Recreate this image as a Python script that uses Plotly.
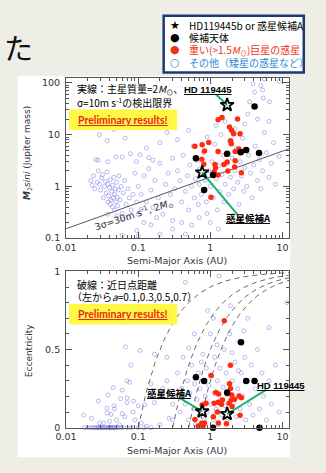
import numpy as np
import plotly.graph_objects as go

W, H = 326, 473
def px(x): return x / W
def py(y): return 1 - y / H

# ---------------- data ----------------
# top panel: semi-major axis (AU) vs M2 sin i (Jupiter mass)
blue_top_a = [0.022,0.023,0.024,0.025,0.026,0.027,0.028,0.029,0.030,0.031,0.032,0.033,0.034,0.035,0.036,0.037,0.038,0.038,0.039,0.040,
              0.041,0.041,0.042,0.043,0.044,0.044,0.045,0.046,0.047,0.047,0.048,0.049,0.050,0.051,0.052,0.053,0.054,0.056,0.058,0.060,
              0.062,0.065,0.068,0.072,0.075,0.080,
              0.0277,0.0378,0.049,0.060,0.078,0.106,0.14,0.16,0.094,0.029,0.037,0.066,0.046,
              0.038,0.051,0.060,0.074,0.10,0.11,0.16,0.22,0.15,0.30,0.060,0.0955,0.10,0.20,0.30,
              0.10,0.11,0.12,0.13,0.14,0.15,0.17,0.19,0.20,0.22,0.24,0.26,0.28,0.13,0.20,0.25,0.18,0.12,0.30,0.09,0.085,0.095,
              0.32,0.35,0.38,0.40,0.42,0.45,0.48,0.50,0.52,0.55,0.58,0.60,0.62,0.65,0.68,0.70,0.72,0.75,0.80,0.85,0.88,0.90,0.95,
              0.40,0.55,0.70,0.35,0.50,0.45,
              1.0,1.05,1.1,1.15,1.2,1.25,1.3,1.35,1.4,1.45,1.5,1.55,1.6,1.7,1.8,1.85,1.9,2.0,2.1,2.2,2.3,2.4,2.5,2.6,2.7,2.8,2.9,3.0,
              1.2,1.6,2.2,1.0,1.3,0.9,
              3.2,3.4,3.6,3.8,4.0,4.2,4.5,4.8,5.0,5.3,5.6,6.0,6.5,7.0,7.5,8.0,9.0,
              3.3,3.5,4.1,5.0,5.3,5.4,5.6,6.6,9.0,3.9,3.0,4.5,6.5]
blue_top_m = [1.3,1.05,1.6,0.9,3.3,1.2,2.0,1.1,0.85,1.45,1.7,0.6,1.0,1.25,0.75,1.9,0.5,1.1,0.65,0.95,
              0.45,1.35,0.55,0.8,1.05,0.4,0.6,1.5,0.7,0.35,0.9,0.5,1.2,0.62,0.42,0.85,1.6,0.55,1.0,0.3,
              0.75,1.3,0.45,0.9,0.6,0.35,
              3.2,3.0,3.7,3.7,4.3,4.1,3.6,3.2,3.0,10.0,7.6,8.6,12.6,
              0.29,0.27,0.23,0.25,0.29,0.36,0.39,0.29,0.18,0.22,0.114,0.14,0.11,0.12,0.15,
              1.0,0.7,1.6,0.5,2.2,0.85,1.3,0.6,2.8,0.45,1.1,1.8,0.7,5.5,7.0,11.0,0.25,0.2,3.5,1.8,0.7,0.5,
              0.9,2.0,1.3,0.5,4.0,0.8,1.6,0.35,2.6,1.0,6.0,0.6,1.4,3.2,0.45,1.1,2.2,0.7,4.5,1.3,0.5,9.0,2.0,
              0.2,0.18,0.25,8.0,12.0,0.12,
              1.0,3.0,0.6,6.5,1.4,0.35,2.5,0.8,10.0,1.7,4.0,0.5,1.1,2.8,0.7,7.5,1.5,3.5,0.9,2.0,5.5,1.2,0.45,3.0,1.6,8.5,0.8,2.3,
              15.0,18.0,13.0,0.2,0.15,0.3,
              1.0,4.0,1.8,0.6,2.6,6.0,1.3,3.3,0.9,2.0,11.0,4.5,1.5,2.8,7.0,1.1,3.8,
              25.0,43.0,66.0,89.0,73.0,51.0,119.0,43.0,107.0,96.0,16.0,20.0,18.0]

red_top_a = [1.28,1.45,2.38,1.84,1.97,2.10,2.58,1.91,1.95,0.61,0.77,0.83,0.95,1.28,2.48,2.75,2.21,1.67,
             0.76,0.81,1.16,1.18,1.54,1.71,2.21,1.13,1.28,1.75,2.17,2.69,1.02]
red_top_m = [19.4,21.5,20.0,14.0,12.1,10.4,10.4,7.6,6.67,5.94,6.39,4.85,7.06,4.71,5.28,4.71,4.71,4.2,
             3.33,2.68,2.64,2.28,2.64,2.96,3.14,1.92,1.66,1.98,2.38,1.84,0.62]

black_top_a = [4.1,1.71,2.63,3.14,4.73,0.63,1.09,0.82]
black_top_m = [34.8,4.26,4.57,5.06,4.44,3.48,1.66,0.85]

star_a = [1.71, 0.77]          # HD119445b, 惑星候補A
star_m = [37.3, 1.86]
star_e = [0.0875, 0.104]

# detection limit line (3σ=30 m/s, 2 Msun)
limit_a = [0.01, 12.4]
limit_m = [0.152, 5.35]

# bottom panel: semi-major axis vs eccentricity
blue_bot_a = [0.018,0.020,0.022,0.023,0.025,0.026,0.027,0.028,0.029,0.030,0.031,0.032,0.033,0.035,0.036,0.038,0.039,0.040,
              0.041,0.042,0.043,0.045,0.046,0.047,0.050,0.052,0.055,0.060,0.070,0.080,0.10,0.12,0.15,
              0.0665,0.106,0.079,0.070,0.076,0.045,0.060,0.038,0.057,0.070,0.070,0.086,0.046,0.047,0.028,0.037,0.037,0.042,
              0.0175,0.0225,0.029,0.050,0.055,0.065,0.090,0.11,0.123,0.168,0.218,0.267,0.13,0.20,0.085,0.15,0.168,
              0.033,0.040,0.060,0.10,0.25,0.30,
              0.45,1.32,0.92,1.9,3.3,6.5,11.5,0.5,0.79,1.24,2.0,2.45,
              0.30,0.32,0.35,0.38,0.40,0.42,0.45,0.48,0.50,0.52,0.55,0.58,0.60,0.62,0.65,0.68,0.70,0.72,0.75,0.78,
              0.80,0.82,0.85,0.88,0.90,0.95,1.0,1.02,1.05,1.1,1.12,1.15,1.2,1.25,1.3,1.35,1.4,1.45,1.5,1.55,
              1.6,1.65,1.7,1.8,1.85,1.9,2.0,2.1,2.2,2.3,2.4,2.5,2.6,2.7,2.8,3.0,3.1,3.3,3.5,3.7,
              3.9,4.2,4.5,4.8,5.2,5.5,6.0,6.5,7.0,8.0,9.0,1.1,0.6,2.9,0.25,0.28]
blue_bot_e = [0.0]*33 + [
              0.517,0.494,0.40,0.30,0.29,0.256,0.24,0.21,0.185,0.19,0.16,0.17,0.14,0.12,0.17,0.126,0.094,0.085,
              0.08,0.06,0.03,0.05,0.02,0.07,0.05,0.03,0.146,0.16,0.25,0.06,0.01,0.02,0.10,0.28,0.47,
              0.03,0.04,0.09,0.14,0.30,0.15,
              0.93,0.97,0.75,0.78,0.70,0.64,0.80,0.51,0.47,0.53,0.48,0.365,
              0.05,0.20,0.35,0.10,0.25,0.45,0.15,0.30,0.05,0.22,0.40,0.12,0.28,0.02,0.18,0.35,0.08,0.25,0.42,0.15,
              0.30,0.05,0.20,0.38,0.10,0.27,0.60,0.15,0.33,0.05,0.22,0.45,0.12,0.30,0.02,0.38,0.18,0.08,0.26,0.50,
              0.14,0.35,0.04,0.22,0.60,0.10,0.30,0.16,0.42,0.07,0.25,0.55,0.12,0.35,0.20,0.45,0.05,0.30,0.15,0.40,
              0.08,0.25,0.50,0.12,0.35,0.20,0.05,0.30,0.15,0.40,0.10,0.70,0.60,0.62,0.45,0.70]

red_bot_a = [1.56,1.90,1.02,1.84,1.19,1.30,1.71,1.98,2.50,2.69,2.17,1.95,1.13,1.28,1.42,1.82,2.00,2.58,
             0.61,0.68,0.79,0.76,1.29,1.67,0.83,1.10,1.90,1.47,0.87,0.77,1.25]
red_bot_e = [0.684,0.40,0.334,0.281,0.225,0.215,0.217,0.209,0.2025,0.192,0.181,0.177,0.156,0.163,0.15,0.156,0.136,0.079,
             0.0525,0.01,0.01,0.0275,0.03,0.025,0.03,0.07,0.25,0.177,0.156,0.145,0.10]

black_bot_a = [2.66,0.63,0.82,3.14,4.1,1.71,1.09,4.8]
black_bot_e = [0.546,0.323,0.298,0.298,0.298,0.225,0.0,0.0]

# periastron distances (AU) for dashed curves
peri_q = [0.1, 0.3, 0.5, 0.7]

x_ticks = [0.01, 0.1, 1, 10]
x_ticktext = ["0.01", "0.1", "1", "10"]
ym_ticks = [0.1, 1, 10, 100]
ym_ticktext = ["0.1", "1", "10", "100"]
ye_ticks = [0, 0.5, 1]
ye_ticktext = ["0", "0.5", "1"]

# ---------------- figure ----------------
BLUE = "rgba(115,115,225,0.7)"
RED = "#ff2a10"
GREEN = "#19b36b"
fig = go.Figure()

def add_points(xa, ya, xs, ys, kind):
    if kind == "blue":
        m = dict(symbol="circle-open", size=4, color=BLUE, line=dict(width=0.7, color=BLUE))
    elif kind == "red":
        m = dict(symbol="circle", size=5.5, color=RED)
    elif kind == "black":
        m = dict(symbol="circle", size=6.5, color="black")
    else:
        m = dict(symbol="star-open", size=10, color="black", line=dict(width=1.8, color="black"))
    fig.add_trace(go.Scatter(x=xs, y=ys, mode="markers", marker=m, xaxis=xa, yaxis=ya,
                             cliponaxis=False, hoverinfo="skip"))

# top panel
fig.add_trace(go.Scatter(x=limit_a, y=limit_m, mode="lines", line=dict(color="#444", width=0.9),
                         xaxis="x", yaxis="y", hoverinfo="skip"))
add_points("x", "y", blue_top_a, blue_top_m, "blue")
add_points("x", "y", red_top_a, red_top_m, "red")
add_points("x", "y", black_top_a, black_top_m, "black")
# green pointer lines (star -> label)
fig.add_trace(go.Scatter(x=[star_a[0], 1.20], y=[star_m[0], 59.4], mode="lines",
                         line=dict(color=GREEN, width=2), xaxis="x", yaxis="y", hoverinfo="skip"))
fig.add_trace(go.Scatter(x=[star_a[1], 2.38], y=[star_m[1], 0.284], mode="lines",
                         line=dict(color=GREEN, width=2), xaxis="x", yaxis="y", hoverinfo="skip"))
add_points("x", "y", star_a, star_m, "star")

# bottom panel
amax = 10 ** 1.094
for q in peri_q:
    aa = np.logspace(np.log10(q), np.log10(amax), 120)
    fig.add_trace(go.Scatter(x=aa, y=1 - q / aa, mode="lines",
                             line=dict(color="#444", width=0.8, dash="5px,4px"),
                             xaxis="x2", yaxis="y2", hoverinfo="skip"))
add_points("x2", "y2", blue_bot_a, blue_bot_e, "blue")
add_points("x2", "y2", red_bot_a, red_bot_e, "red")
add_points("x2", "y2", black_bot_a, black_bot_e, "black")
fig.add_trace(go.Scatter(x=[star_a[0], 6.0], y=[star_e[0], 0.244], mode="lines",
                         line=dict(color=GREEN, width=2), xaxis="x2", yaxis="y2", hoverinfo="skip"))
fig.add_trace(go.Scatter(x=[star_a[1], 0.384], y=[star_e[1], 0.1875], mode="lines",
                         line=dict(color=GREEN, width=2), xaxis="x2", yaxis="y2", hoverinfo="skip"))
add_points("x2", "y2", star_a, star_e, "star")

tickfont = dict(family="DejaVu Sans", size=9.5, color="#333")
x_minor = [k * 10.0 ** p for p in (-2, -1, 0) for k in range(2, 10)]
m_minor = [k * 10.0 ** p for p in (-1, 0, 1) for k in range(2, 10)]
xdom = [px(57), px(288)]
axis_common = dict(showline=True, linecolor="#555", linewidth=1, mirror="allticks",
                   ticks="inside", ticklen=6, tickcolor="#555", showgrid=False, zeroline=False,
                   tickfont=tickfont)

fig.update_layout(
    width=W, height=H, margin=dict(l=0, r=0, t=0, b=0),
    paper_bgcolor="#eeede6", plot_bgcolor="white", showlegend=False,
    xaxis=dict(domain=xdom, type="log", range=[-2, 1.094], anchor="y",
               tickvals=x_ticks, ticktext=x_ticktext,
               minor=dict(tickvals=x_minor, ticks="inside", ticklen=3, tickcolor="#555"),
               **axis_common),
    yaxis=dict(domain=[py(237.7), py(73.5)], type="log", range=[-1, 2.098], anchor="x",
               tickvals=ym_ticks, ticktext=ym_ticktext, ticklabelstandoff=3,
               minor=dict(tickvals=m_minor, ticks="inside", ticklen=3, tickcolor="#555"),
               **axis_common),
    xaxis2=dict(domain=xdom, type="log", range=[-2, 1.094], anchor="y2",
                tickvals=x_ticks, ticktext=x_ticktext,
                minor=dict(tickvals=x_minor, ticks="inside", ticklen=3, tickcolor="#555"),
                **axis_common),
    yaxis2=dict(domain=[py(431.7), py(271.7)], range=[0, 1], anchor="x2",
                tickvals=ye_ticks, ticktext=ye_ticktext, ticklabelstandoff=3,
                minor=dict(dtick=0.1, ticks="inside", ticklen=3, tickcolor="#555"),
                **axis_common),
)

shapes = [
    # white slide panel
    dict(type="rect", xref="paper", yref="paper", x0=px(7), x1=px(289), y0=py(462), y1=py(72),
         fillcolor="white", line=dict(width=0), layer="below"),
    # legend box
    dict(type="rect", xref="paper", yref="paper", x0=px(158), x1=px(303), y0=py(68), y1=py(10),
         fillcolor="white", line=dict(color="#1b3a74", width=2.5), layer="below"),
    # yellow boxes
    dict(type="rect", xref="paper", yref="paper", x0=px(60), x1=px(172), y0=py(127), y1=py(106),
         fillcolor="#fff946", line=dict(width=0), layer="above"),
    dict(type="rect", xref="paper", yref="paper", x0=px(60), x1=px(172), y0=py(326), y1=py(305),
         fillcolor="#fff946", line=dict(width=0), layer="above"),
]
fig.update_layout(shapes=shapes)

JP = "Noto Sans CJK JP"
SANS = "DejaVu Sans"
def ann(x, y, text, size=10, color="black", family=JP, xanchor="center", angle=0):
    fig.add_annotation(x=px(x), y=py(y), xref="paper", yref="paper", text=text, showarrow=False,
                       xanchor=xanchor, yanchor="middle", textangle=angle,
                       font=dict(family=family, size=size, color=color))

# slide title fragment
ann(25, 42, "た", size=29, color="#111", xanchor="right")

# legend
ann(170, 19.5, "★", size=11, family=SANS)
ann(170, 32.5, "●", size=11, family=SANS)
ann(170, 45, "●", size=11, family=SANS, color="#f03018")
ann(170, 57.5, "○", size=11, family=SANS, color="#2a8ad6")
ann(182, 19.5, "HD119445b or 惑星候補A", size=10, xanchor="left")
ann(182, 32.5, "候補天体", size=10, xanchor="left")
ann(182, 45, "重い(>1.5<i>M</i><sub>⊙</sub>)巨星の惑星", size=10, xanchor="left", color="#f03018")
ann(182, 57.5, "その他（矮星の惑星など）", size=10, xanchor="left", color="#2a8ad6")

# top panel texts
ann(66, 85, "実線：主星質量=2<i>M</i><sub>⊙</sub>、", size=10, xanchor="left")
ann(66, 99, "σ=10m s<sup>-1</sup>の検出限界", size=10, xanchor="left")
ann(116, 116.5, "<b><u>Preliminary results!</u></b>", size=10.5, color="#e8271b", family="Lato")
ann(127, 214, "3σ=30m s<sup>-1</sup>, 2<i>M</i><sub>⊙</sub>", size=9.5, color="#333", family=SANS, angle=-18)
ann(203.5, 85.5, "<b><u>HD 119445</u></b>", size=9.5, family="Liberation Sans")
ann(246, 217, "<b><u>惑星候補A</u></b>", size=9.5)

# bottom panel texts
ann(66, 285, "破線：近日点距離", size=10, xanchor="left")
ann(61, 297, "（左から<i>a</i>=0.1,0.3,0.5,0.7）", size=10, xanchor="left")
ann(116, 315.5, "<b><u>Preliminary results!</u></b>", size=10.5, color="#e8271b", family="Lato")
ann(279.5, 389, "<b><u>HD 119445</u></b>", size=9.5, family="Liberation Sans")
ann(164, 396.5, "<b><u>惑星候補A</u></b>", size=9.5)

# axis titles
ann(172, 260.5, "Semi-Major Axis (AU)", size=9.5, color="#333", family=SANS)
ann(172, 455, "Semi-Major Axis (AU)", size=9.5, color="#333", family=SANS)
ann(17, 150, "<b><i>M</i></b><sub>2</sub><i>sini</i> (Jupiter mass)", size=9, color="#333", family=SANS, angle=-90)
ann(18, 352, "Eccentricity", size=9, color="#333", family=SANS, angle=-90)

fig.write_html("out.html", config={"displayModeBar": False},
               post_script="document.body.style.margin='0';document.body.style.overflow='hidden';")
